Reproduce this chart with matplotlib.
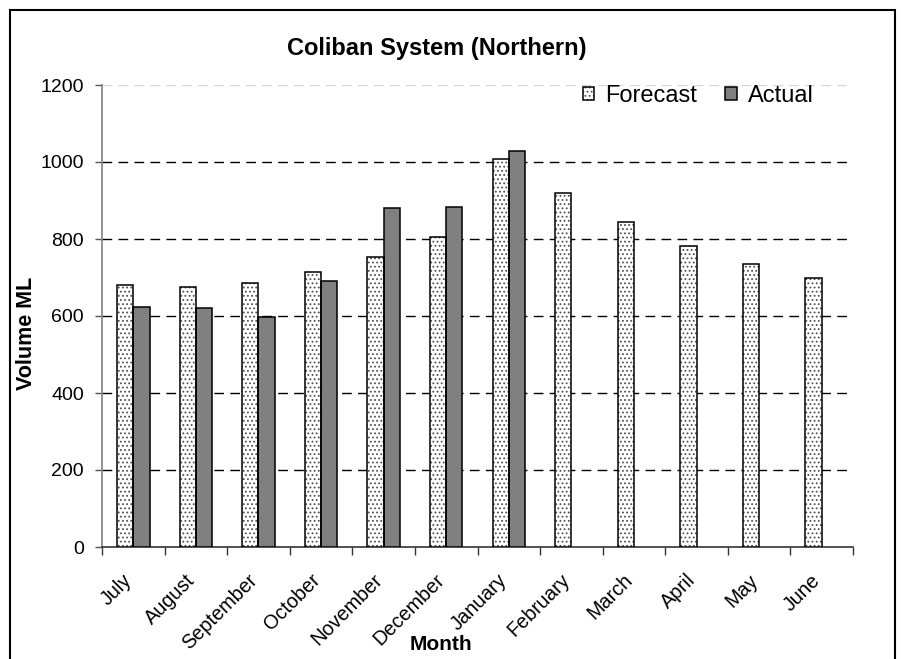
import numpy as np
import matplotlib
matplotlib.use('Agg')
import matplotlib.pyplot as plt
import matplotlib.transforms as mtransforms
from matplotlib.patches import Rectangle
from matplotlib.legend_handler import HandlerTuple

## chart data
months = ['July', 'August', 'September', 'October', 'November', 'December',
          'January', 'February', 'March', 'April', 'May', 'June']
forecast = [680, 676, 686, 715, 754, 806, 1009, 919, 845, 782, 734, 700]
actual = [624, 622, 598, 691, 880, 884, 1029]
y_ticks = [0, 200, 400, 600, 800, 1000, 1200]

plt.rcParams['font.family'] = ['Liberation Sans', 'DejaVu Sans']
plt.rcParams['hatch.linewidth'] = 0.8

fig = plt.figure(figsize=(9.01, 6.59), dpi=100)
ax = fig.add_axes([102/901, 1-547/659, (853-102)/901, (547-85)/659])

x = np.arange(len(months))
w = 0.26
# dotted fill (hatch takes the edge colour) then a black outline on top
dots = ax.bar(x - w/2, forecast, w, color='white', edgecolor='#505050', linewidth=0,
              hatch='....', zorder=3)
edge = ax.bar(x - w/2, forecast, w, fill=False, edgecolor='black', linewidth=1.1, zorder=4)
act = ax.bar(x[:len(actual)] + w/2, actual, w, color='#808080', edgecolor='black',
             linewidth=1.1, zorder=3)

ax.set_xlim(-0.5, len(months) - 0.5)
ax.set_ylim(0, 1200)
ax.set_yticks(y_ticks)
ax.tick_params(axis='y', labelsize=14, length=5, width=1, pad=8, color='#555555')

# tick marks between categories, labels at centres
ax.set_xticks(x)
ax.set_xticklabels(months, rotation=45, ha='right', rotation_mode='anchor', fontsize=14.3)
ax.tick_params(axis='x', which='major', length=0, pad=17)
shift = mtransforms.ScaledTranslation(-11/100, 0, fig.dpi_scale_trans)
for lab in ax.get_xticklabels():
    lab.set_transform(lab.get_transform() + shift)
ax.set_xticks(np.arange(-0.5, len(months)), minor=True)
ax.tick_params(axis='x', which='minor', length=6, width=1, color='#333333')

ax.yaxis.grid(True, color='black', linestyle=(0, (7, 4.5)), linewidth=1.0, zorder=0)
ax.get_ygridlines()[-1].set_color('#d8d8d8')
ax.get_ygridlines()[0].set_visible(False)

for s in ['top', 'right']:
    ax.spines[s].set_visible(False)
ax.spines['left'].set_color('#808080')
ax.spines['left'].set_linewidth(1.2)
ax.spines['bottom'].set_color('#333333')
ax.spines['bottom'].set_linewidth(1.2)

ax.legend([(dots[0], edge[0]), act[0]], ['Forecast', 'Actual'],
          handler_map={tuple: HandlerTuple(ndivide=1, pad=0)},
          loc='center', bbox_to_anchor=(698/901, 1-96/659), bbox_transform=fig.transFigure,
          ncol=2, frameon=False, fontsize=17, handlelength=0.5, handleheight=0.5,
          handletextpad=0.45, columnspacing=1.2)

fig.text(437/901, 1-48/659, 'Coliban System (Northern)', fontsize=17, fontweight='bold',
         ha='center', va='center')
fig.text(27/901, 1-333/659, 'Volume ML', fontsize=15.5, fontweight='bold',
         rotation=90, ha='center', va='center')
fig.text(441/901, 1-645/659, 'Month', fontsize=15, fontweight='bold', ha='center', va='center')

# outer chart border
fig.patches.append(Rectangle((10/901, -0.05), 885/901, 1.05 - 10/659, transform=fig.transFigure,
                             fill=False, edgecolor='black', linewidth=1.5))

fig.savefig('out.png', dpi=100)
